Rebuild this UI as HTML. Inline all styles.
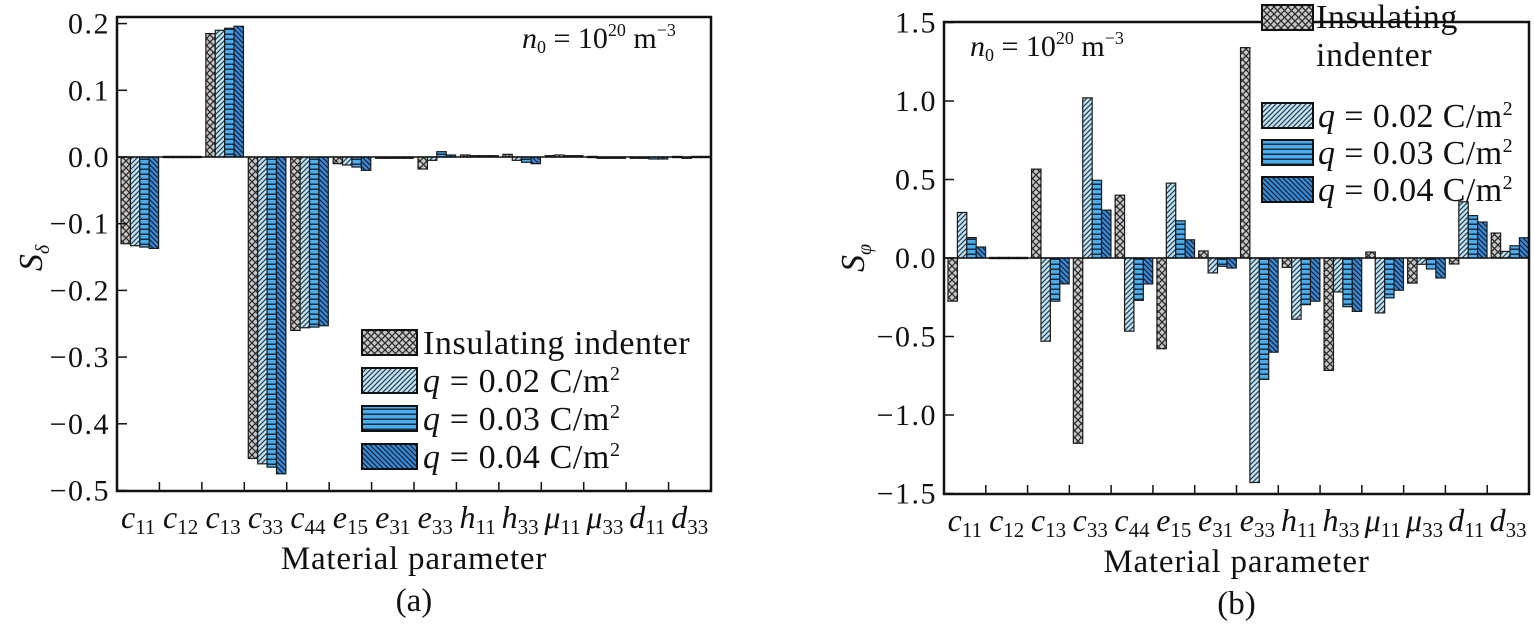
<!DOCTYPE html>
<html><head><meta charset="utf-8"><style>
html,body{margin:0;padding:0;background:#fff;}
svg{display:block;}
svg text{font-family:"Liberation Serif","DejaVu Serif",serif;fill:#111;}
</style></head><body>
<svg id="s" width="1534" height="630" viewBox="0 0 1534 630" xmlns="http://www.w3.org/2000/svg" font-family="Liberation Serif, DejaVu Serif, serif">
<defs>
<pattern id="p0" width="7" height="7" patternUnits="userSpaceOnUse"><rect width="7" height="7" fill="#c8c8c8"/><path d="M0,0L7,7M7,0L0,7" stroke="#2a2a2a" stroke-width="1.3"/></pattern>
<pattern id="p1" width="5" height="5" patternUnits="userSpaceOnUse"><rect width="5" height="5" fill="#bfe6f7"/><path d="M-1,6L6,-1M-1,1L1,-1M4,6L6,4" stroke="#2a3a4a" stroke-width="1.2"/></pattern>
<pattern id="p2" width="5" height="5" patternUnits="userSpaceOnUse"><rect width="5" height="5" fill="#49aef0"/><rect y="3.5" width="5" height="1.5" fill="#1a2a3a"/></pattern>
<pattern id="p3" width="5" height="5" patternUnits="userSpaceOnUse"><rect width="5" height="5" fill="#3b8ad6"/><path d="M-1,-1L6,6M4,-1L6,1M-1,4L1,6" stroke="#10203a" stroke-width="1.2"/></pattern>
</defs>
<g id="g" font-family="Liberation Serif, DejaVu Serif, serif"></g>
</svg>
<script>
var NS="http://www.w3.org/2000/svg",g=document.getElementById('g');
var FF="'Liberation Serif','DejaVu Serif',serif";
function el(t,a,txt){var e=document.createElementNS(NS,t);for(var k in a)e.setAttribute(k,a[k]);if(t==='text'){e.setAttribute('font-family',FF);if(!a['font-size'])e.setAttribute('font-size','30');}if(txt!==undefined)e.innerHTML=txt;g.appendChild(e);return e;}
var cats=[['c','11'],['c','12'],['c','13'],['c','33'],['c','44'],['e','15'],['e','31'],['e','33'],['h','11'],['h','33'],['μ','11'],['μ','33'],['d','11'],['d','33']];
function panel(o){
 var L=o.L,R=o.R,T=o.T,B=o.B,z=o.z,sc=o.sc,w=(R-L)/14;
 o.data.forEach(function(v,i){v.forEach(function(val,j){
  var x=L+i*w+4+j*9.4,y=z-val*sc;
  var y0=Math.min(y,z),h=Math.abs(y-z);
  if(h<1.2){h=1.2;y0=z-0.6;}
  el('rect',{x:x,y:y0,width:9.4,height:h,fill:'url(#p'+j+')',stroke:'#1a1a1a','stroke-width':1.2});
 });});
 el('line',{x1:L,y1:z,x2:R,y2:z,stroke:'#111','stroke-width':1.5});
 el('rect',{x:L,y:T,width:R-L,height:B-T,fill:'none',stroke:'#111','stroke-width':2.5});
 for(var i=1;i<14;i++){var x=L+i*w;el('line',{x1:x,y1:B,x2:x,y2:B-9,stroke:'#111','stroke-width':1.5});}
 o.ticks.forEach(function(t){var y=z-t[0]*sc;el('line',{x1:L,y1:y,x2:L+10,y2:y,stroke:'#111','stroke-width':1.5});
  el('text',{x:L-7,y:y+10,'text-anchor':'end','font-size':'30','letter-spacing':'1.5'},t[1]);});
 cats.forEach(function(c,i){el('text',{x:L+i*w+w/2,y:B+37,'text-anchor':'middle','font-size':'32'},'<tspan font-style="italic">'+c[0]+'</tspan><tspan font-size="21" dy="6">'+c[1]+'</tspan>');});
 el('text',{x:(L+R)/2,y:B+78,'text-anchor':'middle','font-size':'33','letter-spacing':'0.8'},'Material parameter');
 el('text',{x:(L+R)/2,y:B+120,'text-anchor':'middle','font-size':'33'},o.lab);
}
panel({L:117,R:711,T:17,B:491,z:157,sc:667,lab:'(a)',
 ticks:[[0.2,'0.2'],[0.1,'0.1'],[0,'0.0'],[-0.1,'−0.1'],[-0.2,'−0.2'],[-0.3,'−0.3'],[-0.4,'−0.4'],[-0.5,'−0.5']],
 data:[[-0.13,-0.133,-0.135,-0.137],[0,0,0,0],[0.185,0.19,0.193,0.196],[-0.452,-0.46,-0.465,-0.475],[-0.26,-0.256,-0.255,-0.253],[-0.01,-0.012,-0.015,-0.02],[-0.002,-0.002,-0.002,-0.002],[-0.018,-0.005,0.008,0.003],[0.003,0.002,0.002,0.002],[0.004,-0.005,-0.008,-0.01],[0.002,0.003,0.002,0.002],[0.001,-0.002,-0.002,-0.002],[-0.002,-0.002,-0.003,-0.003],[0.001,-0.002,0.001,0.001]]});
panel({L:944,R:1529,T:22,B:494,z:258,sc:157,lab:'(b)',
 ticks:[[1.5,'1.5'],[1,'1.0'],[0.5,'0.5'],[0,'0.0'],[-0.5,'−0.5'],[-1,'−1.0'],[-1.5,'−1.5']],
 data:[[-0.275,0.29,0.13,0.07],[0,0,0,0],[0.566,-0.53,-0.275,-0.165],[-1.18,1.02,0.495,0.305],[0.4,-0.466,-0.27,-0.165],[-0.578,0.477,0.237,0.116],[0.045,-0.095,-0.053,-0.064],[1.34,-1.43,-0.773,-0.6],[-0.06,-0.39,-0.297,-0.275],[-0.716,-0.216,-0.31,-0.34],[0.038,-0.35,-0.254,-0.205],[-0.16,-0.04,-0.07,-0.127],[-0.038,0.358,0.27,0.229],[0.159,0.042,0.078,0.129]]});
el('text',{x:0,y:0,transform:'translate(42,258) rotate(-90)','text-anchor':'middle','font-size':'34'},'<tspan font-style="italic">S</tspan><tspan font-size="20" dy="7" font-style="italic">δ</tspan>');
el('text',{x:0,y:0,transform:'translate(864,258) rotate(-90)','text-anchor':'middle','font-size':'34'},'<tspan font-style="italic">S</tspan><tspan font-size="20" dy="7" font-style="italic">φ</tspan>');
function n0(x,y){el('text',{x:x,y:y,'font-size':'30'},'<tspan font-style="italic">n</tspan><tspan font-size="18" dy="5">0</tspan><tspan dy="-5"> = 10</tspan><tspan font-size="18" dy="-12">20</tspan><tspan dy="12"> m</tspan><tspan font-size="18" dy="-12">−3</tspan>');}
n0(522,48);n0(970,56);
var qs=['0.02','0.03','0.04'];
function qtxt(q){return '<tspan font-style="italic">q</tspan> = '+q+' C/m<tspan font-size="20" dy="-12">2</tspan>';}
var la=[[330,'Insulating indenter'],[368,qtxt(qs[0])],[406,qtxt(qs[1])],[444,qtxt(qs[2])]];
la.forEach(function(r,j){el('rect',{x:362,y:r[0],width:55,height:25,fill:'url(#p'+j+')',stroke:'#111','stroke-width':2});
 el('text',{x:423,y:r[0]+24,'font-size':'34','letter-spacing':'0.6'},r[1]);});
var lb=[[5,''],[103,qtxt(qs[0])],[140,qtxt(qs[1])],[177,qtxt(qs[2])]];
lb.forEach(function(r,j){el('rect',{x:1262,y:r[0],width:51,height:25,fill:'url(#p'+j+')',stroke:'#111','stroke-width':2});
 if(r[1])el('text',{x:1318,y:r[0]+24,'font-size':'34','letter-spacing':'0.4'},r[1]);});
el('text',{x:1316,y:28,'font-size':'34','letter-spacing':'0.6'},'Insulating');
el('text',{x:1316,y:66,'font-size':'34','letter-spacing':'0.6'},'indenter');
</script>
</body></html>
